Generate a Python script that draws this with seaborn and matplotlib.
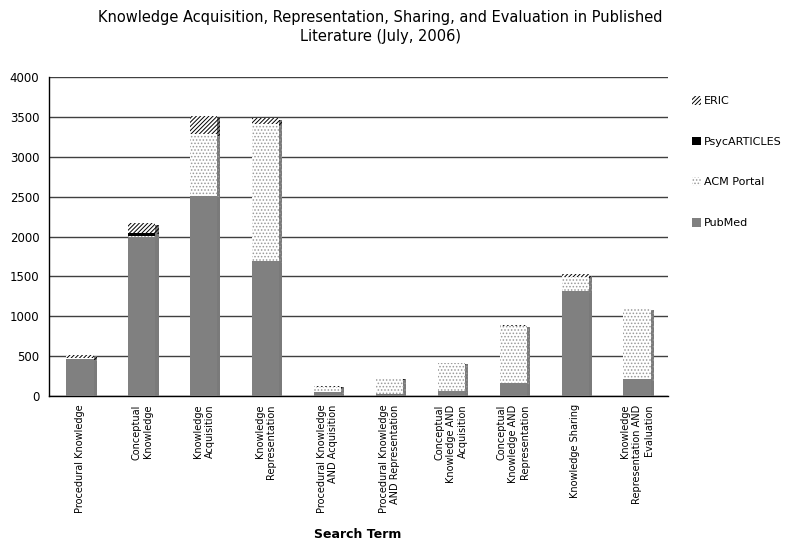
import matplotlib
matplotlib.use('Agg')
import matplotlib.pyplot as plt
import matplotlib.patheffects as pe
from matplotlib.patches import Patch
import numpy as np
import pandas as pd
import seaborn as sns

# data
terms = [
    "Procedural Knowledge",
    "Conceptual\nKnowledge",
    "Knowledge\nAcquisition",
    "Knowledge\nRepresentation",
    "Procedural Knowledge\nAND Acquisition",
    "Procedural Knowledge\nAND Representation",
    "Conceptual\nKnowledge AND\nAcquisition",
    "Conceptual\nKnowledge AND\nRepresentation",
    "Knowledge Sharing",
    "Knowledge\nRepresentation AND\nEvaluation",
]
pubmed = [460, 2000, 2510, 1690, 50, 20, 60, 160, 1315, 210]
acm_portal = [15, 10, 770, 1720, 60, 200, 350, 720, 180, 890]
psycarticles = [0, 40, 0, 0, 0, 0, 0, 0, 0, 0]
eric = [45, 120, 230, 70, 20, 10, 10, 10, 35, 5]

y_ticks = [0, 500, 1000, 1500, 2000, 2500, 3000, 3500, 4000]

# stacked order bottom -> top
sources = ['PubMed', 'ACM Portal', 'PsycARTICLES', 'ERIC']
values = {'PubMed': pubmed, 'ACM Portal': acm_portal,
          'PsycARTICLES': psycarticles, 'ERIC': eric}

rows = []
cum = np.zeros(len(terms))
for src in sources:
    cum = cum + np.array(values[src])
    for t, c in zip(terms, cum):
        rows.append({'Term': t, 'Source': src, 'Cumulative': c})
df = pd.DataFrame(rows)

styles = {
    'ERIC': dict(face='white', edge='black', hatch='////////'),
    'PsycARTICLES': dict(face='black', edge='black', hatch=None),
    'ACM Portal': dict(face='white', edge='#9a9a9a', hatch='.....'),
    'PubMed': dict(face='#808080', edge='#808080', hatch=None),
}

sns.set_style('white')
plt.rcParams['font.family'] = ['DejaVu Sans']
plt.rcParams['text.color'] = 'black'
plt.rcParams['xtick.color'] = 'black'
plt.rcParams['ytick.color'] = 'black'
plt.rcParams['hatch.linewidth'] = 0.7

fig = plt.figure(figsize=(8, 5.48), dpi=100)
ax = fig.add_axes([49 / 800, 1 - 396 / 548, (668 - 49) / 800, (396 - 77) / 548])

shadow = [pe.SimplePatchShadow(offset=(2.2, -1.2), shadow_rgbFace='#7a7a7a', alpha=1.0),
          pe.Normal()]

# draw tallest cumulative layer first so lower layers sit on top
for src in reversed(sources):
    st = styles[src]
    before = len(ax.patches)
    sns.barplot(data=df[df['Source'] == src], x='Term', y='Cumulative',
                ax=ax, color=st['face'], width=0.44, saturation=1,
                order=terms, errorbar=None, zorder=3)
    for p in ax.patches[before:]:
        p.set_facecolor(st['face'])
        p.set_edgecolor(st['edge'])
        p.set_linewidth(0)
        if st['hatch']:
            p.set_hatch(st['hatch'])
        p.set_path_effects(shadow)

ax.set_ylim(0, 4000)
ax.set_xlim(-0.5, len(terms) - 0.5)
ax.set_yticks(y_ticks)
ax.set_yticklabels([str(v) for v in y_ticks], fontsize=8.5)
ax.yaxis.grid(True, color='#404040', linewidth=1)
ax.set_axisbelow(True)

for s in ['top', 'right']:
    ax.spines[s].set_visible(False)
for s in ['left', 'bottom']:
    ax.spines[s].set_color('black')
    ax.spines[s].set_linewidth(1)

ax.set_xticks(range(len(terms)))
ax.set_xticklabels(terms, rotation=90, fontsize=7, va='top', ha='center',
                   multialignment='right')
ax.set_xticks(np.arange(-0.5, len(terms), 1), minor=True)
ax.tick_params(axis='x', which='major', length=0, pad=6)
ax.tick_params(axis='x', which='minor', length=4, direction='out', color='black')
ax.tick_params(axis='y', length=4, direction='out', color='black', pad=3)

ax.set_xlabel('')
ax.set_ylabel('')
fig.text(358 / 800, 1 - 535 / 548, 'Search Term', ha='center', va='center',
         fontsize=9, fontweight='bold')

fig.text(380 / 800, 1 - 27 / 548,
         'Knowledge Acquisition, Representation, Sharing, and Evaluation in Published\nLiterature (July, 2006)',
         ha='center', va='center', fontsize=10.5, linespacing=1.35)

legend_order = ['ERIC', 'PsycARTICLES', 'ACM Portal', 'PubMed']
handles = []
for src in legend_order:
    st = styles[src]
    handles.append(Patch(facecolor=st['face'], edgecolor=st['edge'],
                         hatch=st['hatch'], linewidth=0, label=src))
fig.legend(handles=handles, labels=legend_order, loc='upper left',
           bbox_to_anchor=(682 / 800, 1 - 86 / 548), frameon=False,
           fontsize=8, handlelength=0.8, handleheight=0.8, handletextpad=0.3,
           labelspacing=2.75)

fig.savefig('out.png', dpi=100)
